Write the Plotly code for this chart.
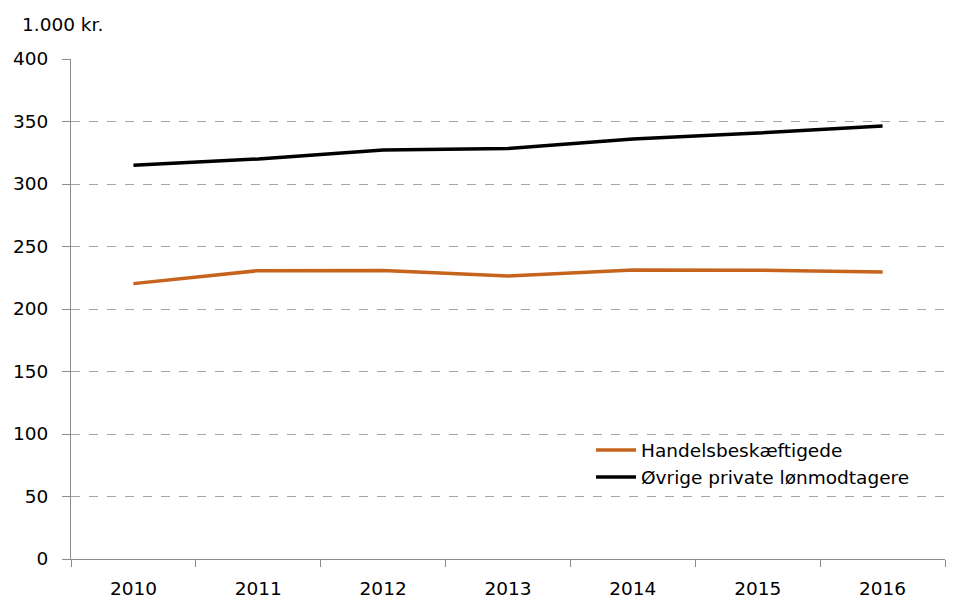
import plotly.graph_objects as go

years = ["2010", "2011", "2012", "2013", "2014", "2015", "2016"]
handel = [220.3, 230.7, 230.9, 226.5, 231.3, 231.0, 229.7]
oevrige = [315.0, 320.0, 327.3, 328.5, 336.0, 340.8, 346.5]
series_names = ["Handelsbeskæftigede", "Øvrige private lønmodtagere"]
y_ticks = [0, 50, 100, 150, 200, 250, 300, 350, 400]

FONT = "DejaVu Sans"
FS = 18.5
fig = go.Figure()
fig.add_trace(go.Scatter(x=years, y=handel, mode="lines", name=series_names[0],
                         line=dict(color="#C6641E", width=3.5)))
fig.add_trace(go.Scatter(x=years, y=oevrige, mode="lines", name=series_names[1],
                         line=dict(color="#000000", width=3.5)))

fig.update_layout(
    width=949, height=593,
    margin=dict(l=63, r=12, t=51, b=42, autoexpand=False),
    paper_bgcolor="white", plot_bgcolor="white",
    font=dict(family=FONT, size=FS, color="#000000"),
    showlegend=True,
    legend=dict(x=0.595, y=0.255, xanchor="left", yanchor="top",
                bgcolor="rgba(0,0,0,0)", font=dict(size=FS, family=FONT),
                tracegroupgap=0, itemwidth=40),
    xaxis=dict(type="category", range=[-0.5, 6.5], showgrid=False, automargin=False,
               showline=True, linecolor="#8C8C8C", linewidth=1,
               ticks="outside", tickson="boundaries", ticklen=7, tickcolor="#8C8C8C",
               ticklabelstandoff=13,
               tickfont=dict(size=FS, family=FONT), zeroline=False),
    yaxis=dict(range=[0, 400], tickvals=y_ticks, showgrid=True, automargin=False,
               gridcolor="#A6A6A6", griddash="dash", gridwidth=1,
               showline=True, linecolor="#8C8C8C", linewidth=1,
               ticks="outside", ticklen=8, tickcolor="#8C8C8C",
               ticklabelstandoff=10,
               tickfont=dict(size=FS, family=FONT), zeroline=False),
    annotations=[dict(text="1.000 kr.", xref="paper", yref="paper", x=-0.0584, y=1.068,
                      xanchor="left", yanchor="middle", showarrow=False,
                      font=dict(size=FS, family=FONT))],
)
fig.write_html("out.html")
